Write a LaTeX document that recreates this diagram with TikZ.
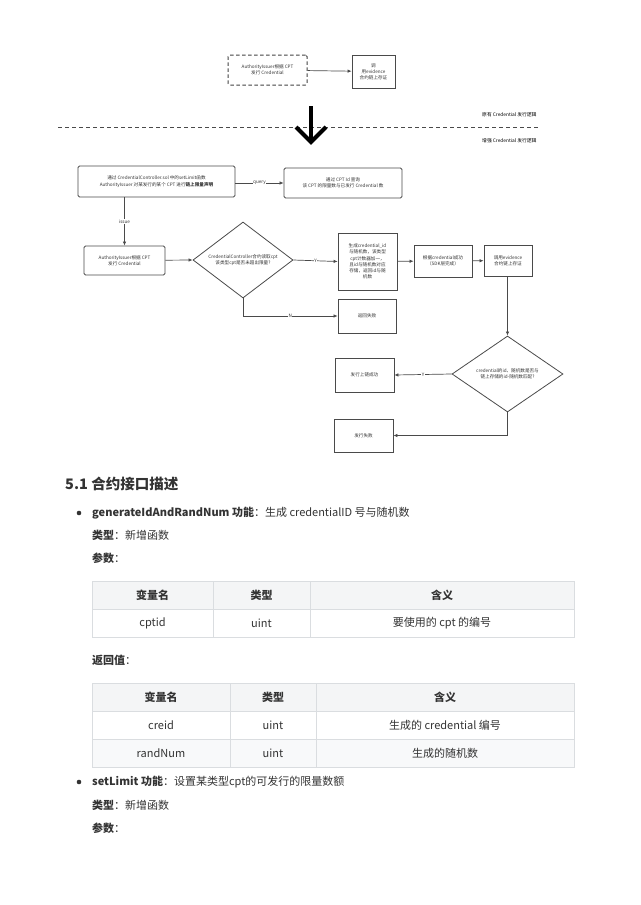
\documentclass[tikz,border=0pt]{standalone}
\usepackage{fontspec}
\setmainfont{Noto Sans CJK SC}
\usetikzlibrary{shapes.geometric,arrows.meta}
\definecolor{ln}{HTML}{4A4A4A}
\definecolor{tx}{HTML}{333333}
\definecolor{hd}{HTML}{F4F5F6}
\definecolor{bd}{HTML}{DADDE0}
\begin{document}
\begin{tikzpicture}[x=1pt,y=-1pt,
  fc/.style={font=\fontsize{4.6}{6.2}\selectfont,text=tx,align=center},
  box/.style={draw=ln,line width=0.8pt,fc,inner sep=1pt},
  rbox/.style={box,rounded corners=1.5pt},
  dia/.style={draw=ln,line width=0.8pt,diamond,inner sep=0pt},
  arr/.style={draw=ln,line width=0.7pt,-{Latex[length=4pt,width=3.5pt]}},
  lab/.style={fc,fill=white,inner sep=0.5pt},
  body/.style={font=\fontsize{11}{13}\selectfont,text=tx,anchor=west,inner sep=0pt},
  cell/.style={font=\fontsize{11}{13}\selectfont,text=tx,inner sep=0pt}]
\useasboundingbox (0,0) rectangle (640,905);
\fill[white] (0,0) rectangle (640,905);
% top part
\node[rbox,draw=ln!90!black,line width=1pt,dash pattern=on 3.5pt off 2.5pt,minimum width=79pt,minimum height=30pt] (t1) at (267.5,70) {AuthorityIssuer根据 CPT\\发行 Credential};
\node[box,minimum width=43pt,minimum height=33pt] (t2) at (373.5,71.5) {调\\用evidence\\合约链上存证};
\draw[arr] (t1) -- (t2);
\draw[ln,dash pattern=on 4pt off 3pt,line width=0.7pt] (58,127) -- (538,127);
\draw[black,line width=4pt] (311,106) -- (311,140);
\draw[black,line width=4pt,line join=miter] (296,127) -- (311,142) -- (326,127);
\node[fc,anchor=east,font=\fontsize{4.8}{6}\selectfont,text=black] (old) at (540,115) {原有 Credential 发行逻辑};
\node[fc,anchor=east,font=\fontsize{4.8}{6}\selectfont,text=black] (new) at (540,141) {增强 Credential 发行逻辑};
% flowchart
\node[rbox,minimum width=157pt,minimum height=31pt] (A) at (156.5,181.5) {通过 CredentialController.sol 中的setLimit函数\\AuthorityIssuer 对某发行的某个 CPT 进行\textbf{链上限量声明}};
\node[rbox,minimum width=118pt,minimum height=30pt] (B) at (343,183) {通过 CPT Id 查询\\该 CPT 的限量数与已发行 Credential 数};
\node[rbox,minimum width=81pt,minimum height=29pt] (C) at (124.5,260.5) {AuthorityIssuer根据 CPT\\发行 Credential};
\node[dia,minimum width=100pt,minimum height=76pt] (D) at (243,260) {};
\node[fc] (Dt) at (243,260) {CredentialController合约读取cpt\\该类型cpt是否未超出限量?};
\node[box,minimum width=59pt,minimum height=57pt] (E) at (367.5,261.5) {生成credential\_id\\与随机数，该类型\\cpt计数器加一，\\且id与随机数对应\\存储，返回id与随\\机数};
\node[box,minimum width=58pt,minimum height=32pt] (F) at (443,261) {根据credential成功\\（SDK层完成）};
\node[box,minimum width=48pt,minimum height=31pt] (G) at (508,260.5) {调用evidence\\合约链上存证};
\node[box,minimum width=58pt,minimum height=34pt] (K) at (367,316) {返回失败};
\node[dia,minimum width=111pt,minimum height=76pt] (H) at (507.5,374) {};
\node[fc] (Ht) at (507.5,374) {credential的id、随机数是否与\\链上存储的id-随机数匹配?};
\node[box,minimum width=59pt,minimum height=34pt] (I) at (364.5,375) {发行上链成功};
\node[box,minimum width=59pt,minimum height=33pt] (J) at (363.5,435.5) {发行失败};
\draw[arr] (A.east |- B.west) -- node[lab] {query} (B.west);
\draw[arr] (A.south -| C.north) -- node[lab] {issue} (C.north);
\draw[arr] (C) -- (D.west);
\draw[arr] (D.east) -- node[lab] {Y} (E.west);
\draw[arr] (E) -- (F);
\draw[arr] (F) -- (G);
\draw[arr] (D.south) |- node[lab,pos=0.75] {N} (K.west);
\draw[arr] (G.south -| H.north) -- (H.north);
\draw[arr] (H.west) -- node[lab] {Y} (I.east);
\draw[arr] (H.south) |- (J.east);
% text
\node[body,font=\fontsize{14.5}{16}\selectfont\bfseries] (h1) at (65,484) {5.1 合约接口描述};
\fill[tx] (79,513) circle (2.3pt);
\node[body] (l1) at (92,513) {\textbf{generateIdAndRandNum 功能}：生成 credentialID 号与随机数};
\node[body] (l2) at (92,535) {\textbf{类型}：新增函数};
\node[body] (l3) at (92,558) {\textbf{参数}：};
% table 1
\fill[hd] (92,581) rectangle (574,609);
\draw[bd,line width=0.7pt] (92,581) rectangle (574,637);
\draw[bd,line width=0.7pt] (92,609) -- (574,609) (213,581) -- (213,637) (310,581) -- (310,637);
\node[cell,font=\fontsize{11}{13}\selectfont\bfseries] (c11) at (152.5,595) {变量名};
\node[cell,font=\fontsize{11}{13}\selectfont\bfseries] (c12) at (261.5,595) {类型};
\node[cell,font=\fontsize{11}{13}\selectfont\bfseries] (c13) at (442,595) {含义};
\node[cell] (c21) at (152.5,623) {cptid};
\node[cell] (c22) at (261.5,623) {uint};
\node[cell] (c23) at (442,623) {要使用的 cpt 的编号};
\node[body] (l4) at (92,660) {\textbf{返回值}：};
% table 2
\fill[hd] (92,683) rectangle (574,711);
\fill[hd!60] (92,739) rectangle (574,767);
\draw[bd,line width=0.7pt] (92,683) rectangle (574,767);
\draw[bd,line width=0.7pt] (92,711) -- (574,711) (92,739) -- (574,739) (230,683) -- (230,767) (316,683) -- (316,767);
\node[cell,font=\fontsize{11}{13}\selectfont\bfseries] (d11) at (161,697) {变量名};
\node[cell,font=\fontsize{11}{13}\selectfont\bfseries] (d12) at (273,697) {类型};
\node[cell,font=\fontsize{11}{13}\selectfont\bfseries] (d13) at (445,697) {含义};
\node[cell] (d21) at (161,725) {creid};
\node[cell] (d22) at (273,725) {uint};
\node[cell] (d23) at (445,725) {生成的 credential 编号};
\node[cell] (d31) at (161,753) {randNum};
\node[cell] (d32) at (273,753) {uint};
\node[cell] (d33) at (445,753) {生成的随机数};
\fill[tx] (79,782) circle (2.3pt);
\node[body] (l5) at (92,782) {\textbf{setLimit 功能}：设置某类型cpt的可发行的限量数额};
\node[body] (l6) at (92,805) {\textbf{类型}：新增函数};
\node[body] (l7) at (92,828) {\textbf{参数}：};
\end{tikzpicture}
\end{document}
